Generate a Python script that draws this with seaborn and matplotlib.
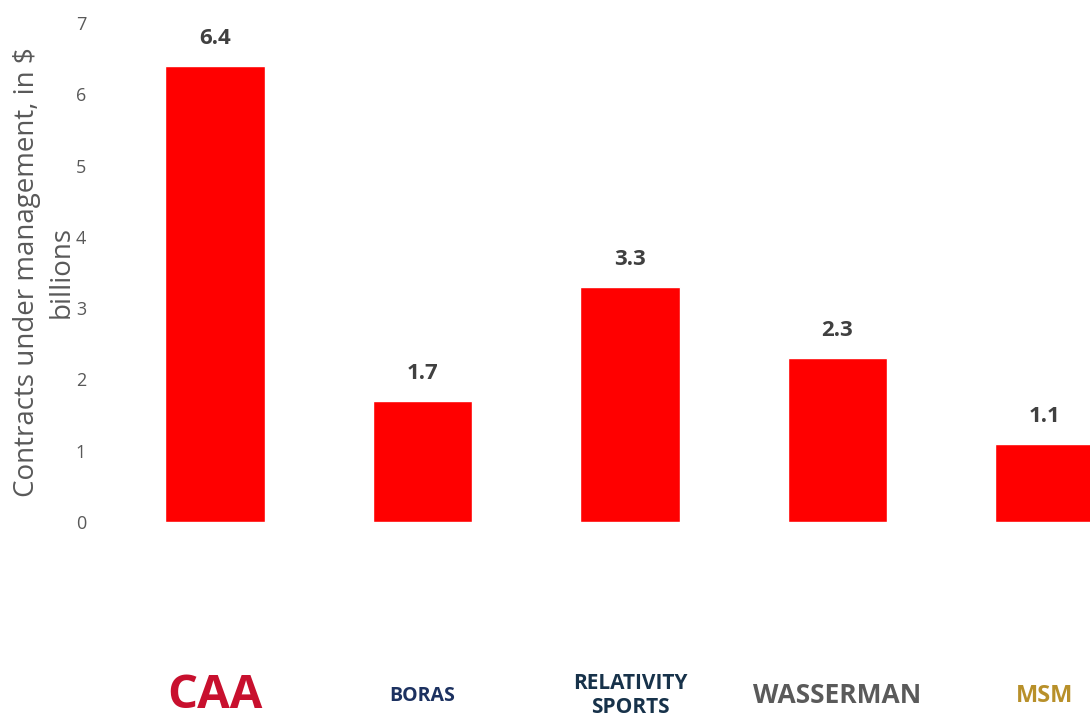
import matplotlib
matplotlib.use("Agg")
import matplotlib.pyplot as plt
import seaborn as sns
import pandas as pd

agencies = ["CAA", "BORAS", "RELATIVITY\nSPORTS", "WASSERMAN", "MSM"]
values = [6.4, 1.7, 3.3, 2.3, 1.1]
y_ticks = [0, 1, 2, 3, 4, 5, 6, 7]

sns.set_style("white")
plt.rcParams['font.family'] = ['Open Sans', 'DejaVu Sans']

df = pd.DataFrame({"agency": agencies, "value": values})

fig = plt.figure(figsize=(10.9, 7.19), dpi=100)
ax = fig.add_axes([100/1090, 1-522/719, 1-100/1090, (522-23)/719])
sns.barplot(data=df, x="agency", y="value", color="#ff0000", width=0.48,
            saturation=1, ax=ax)
ax.set_xlim(-0.554, 4.217)
ax.set_ylim(0, 7)
ax.set_yticks(y_ticks)
ax.set_yticklabels([str(t) for t in y_ticks], color="#595959", fontsize=13)
ax.tick_params(axis="y", length=0, pad=10)
ax.tick_params(axis="x", length=0, pad=125)
sns.despine(ax=ax, left=True, bottom=True)
ax.set_xlabel("")
ax.set_ylabel("Contracts under management, in $\nbillions", color="#595959",
              fontsize=20, linespacing=1.3, labelpad=0)

for p, v in zip(ax.patches, values):
    ax.annotate(f"{v:.1f}", (p.get_x() + p.get_width() / 2, v),
                xytext=(0, 12), textcoords="offset points",
                ha="center", va="bottom", fontsize=16, fontweight="bold",
                color="#404040")

styles = [
    dict(color="#c8102e", fontsize=34, fontweight="bold"),
    dict(color="#1c3160", fontsize=14, fontweight="bold"),
    dict(color="#17324a", fontsize=15, fontweight="bold"),
    dict(color="#5a5a5a", fontsize=19, fontweight="bold"),
    dict(color="#b8902a", fontsize=17, fontweight="bold"),
]
for lab, st in zip(ax.get_xticklabels(), styles):
    lab.set_color(st["color"])
    lab.set_fontsize(st["fontsize"])
    lab.set_fontweight(st["fontweight"])
    lab.set_verticalalignment("center")

fig.savefig("out.png", dpi=100)
